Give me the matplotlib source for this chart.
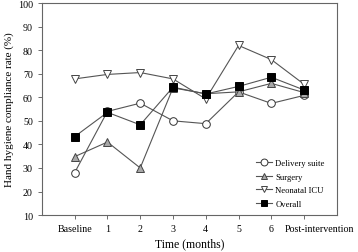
import matplotlib
matplotlib.use("Agg")

import matplotlib.pyplot as plt
import matplotlib.transforms as mtransforms

plt.rcParams["font.family"] = ["Liberation Serif", "DejaVu Serif"]

# dados
time_labels = ["Baseline", "1", "2", "3", "4", "5", "6", "Post-intervention"]
delivery_suite = [28, 54, 57.5, 50, 48.8, 62.3, 57.4, 60.8]
surgery = [34.8, 41, 30, 64, 61.5, 62.3, 65.9, 62]
neonatal_icu = [67.8, 69.7, 70.5, 67.8, 59.3, 82, 76, 65.5]
overall = [43.3, 53.6, 48.3, 64.3, 61.4, 64.6, 68.5, 63.1]

x = list(range(len(time_labels)))

fig = plt.figure(figsize=(3.58, 2.53), dpi=100)
ax = fig.add_axes([0.117, 0.146, 0.824, 0.838])

line_kw = dict(color="#555555", linewidth=0.8, markersize=5.5, markeredgewidth=0.7)

ax.plot(x, delivery_suite, marker="o", markerfacecolor="white",
        markeredgecolor="#333333", label="Delivery suite", **line_kw)
ax.plot(x, surgery, marker="^", markerfacecolor="#a8a8a8",
        markeredgecolor="#444444", label="Surgery", **line_kw)
ax.plot(x, neonatal_icu, marker="v", markerfacecolor="white",
        markeredgecolor="#444444", label="Neonatal ICU", **line_kw)
ax.plot(x, overall, marker="s", markerfacecolor="black",
        markeredgecolor="black", label="Overall", **line_kw)

ax.set_xlim(-1, 8)
ax.set_ylim(10, 100)
ax.set_xticks(x)
ax.set_xticklabels(time_labels, fontsize=7.2)
ax.set_yticks(range(10, 101, 10))
ax.tick_params(axis="y", labelsize=7.2)
ax.tick_params(direction="out", length=3, width=0.6, color="#555555")

# a última etiqueta fica deslocada para a direita
last = ax.get_xticklabels()[-1]
last.set_transform(last.get_transform() +
                   mtransforms.ScaledTranslation(15 / 100, 0, fig.dpi_scale_trans))

for side in ["top", "right", "left", "bottom"]:
    ax.spines[side].set_color("#666666")
    ax.spines[side].set_linewidth(0.8)

ax.set_xlabel("Time (months)", fontsize=8.5, labelpad=3)
ax.set_ylabel("Hand hygiene compliance rate (%)", fontsize=8, labelpad=3)

ax.legend(loc="lower right", bbox_to_anchor=(0.985, -0.005), frameon=False,
          fontsize=6.2, handlelength=1.9, handletextpad=0.4, labelspacing=0.68,
          markerscale=0.9)

plt.savefig("out.png", dpi=100)
plt.close()
